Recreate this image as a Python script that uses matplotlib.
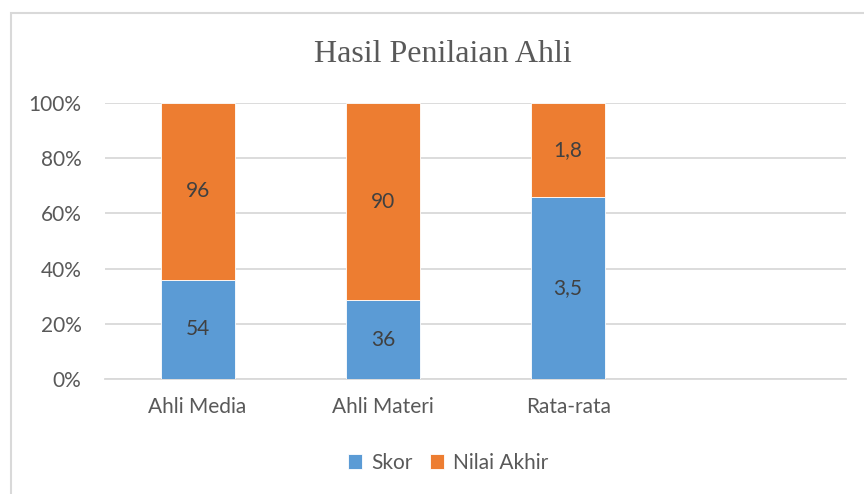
import numpy as np
import matplotlib.pyplot as plt
from matplotlib.patches import Rectangle

categories = ['Ahli Media', 'Ahli Materi', 'Rata-rata', '']
skor = [54, 36, 3.5, 0]
nilai_akhir = [96, 90, 1.8, 0]
skor_labels = ['54', '36', '3,5']
nilai_labels = ['96', '90', '1,8']

blue = '#5B9BD5'
orange = '#ED7D31'
grey = '#595959'
font = ['Lato', 'DejaVu Sans']
fs = 15

plt.rcParams['font.family'] = font

skor = np.array(skor, dtype=float)
nilai_akhir = np.array(nilai_akhir, dtype=float)
total = skor + nilai_akhir
safe = np.where(total == 0, 1, total)
skor_pct = np.where(total == 0, 0, skor / safe * 100)
nilai_pct = np.where(total == 0, 0, nilai_akhir / safe * 100)

fig = plt.figure(figsize=(8.64, 4.94), dpi=100)
ax = fig.add_axes([105 / 864, 1 - 379 / 494, 741 / 864, 276 / 494])

x = np.arange(len(categories))
ax.bar(x, skor_pct, width=0.4, color=blue, edgecolor='white', linewidth=0.6,
       label='Skor', zorder=3)
ax.bar(x, nilai_pct, width=0.4, bottom=skor_pct, color=orange, edgecolor='white',
       linewidth=0.6, label='Nilai Akhir', zorder=3)

for i in range(len(skor_labels)):
    ax.text(x[i], skor_pct[i] / 2, skor_labels[i], ha='center', va='center',
            fontsize=fs, color='#404040', zorder=4)
    ax.text(x[i], skor_pct[i] + nilai_pct[i] / 2, nilai_labels[i], ha='center',
            va='center', fontsize=fs, color='#404040', zorder=4)

ax.set_xlim(-0.5, len(categories) - 0.5)
ax.set_ylim(0, 100)
ax.set_yticks(np.arange(0, 101, 20))
ax.set_yticklabels([f'{v}%' for v in range(0, 101, 20)])
ax.set_xticks(x)
ax.set_xticklabels(categories)
ax.tick_params(axis='both', length=0, labelsize=fs, colors=grey)
ax.tick_params(axis='y', pad=17)
ax.tick_params(axis='x', pad=13)
ax.grid(axis='y', color='#D9D9D9', linewidth=1.3, zorder=0)
for side in ['top', 'right', 'left']:
    ax.spines[side].set_visible(False)
ax.spines['bottom'].set_color('#D9D9D9')
ax.spines['bottom'].set_linewidth(1.3)

fig.text(443 / 864, 1 - 55 / 494, 'Hasil Penilaian Ahli', ha='center', va='center',
         fontsize=23, color=grey, family=['Liberation Serif', 'DejaVu Serif'])

fig.legend(loc='center', bbox_to_anchor=(448 / 864, 1 - 463 / 494), ncol=2,
           frameon=False, fontsize=fs, handlelength=0.7, handleheight=0.7,
           handletextpad=0.4, columnspacing=0.85, labelcolor=grey)

# chart frame (top and left edges)
fig.patches.append(Rectangle((11 / 864, -0.1), 1.0, 1 - 13 / 494 + 0.1,
                             transform=fig.transFigure, fill=False,
                             edgecolor='#D9D9D9', linewidth=1.5))

fig.savefig('out.png', dpi=100)
